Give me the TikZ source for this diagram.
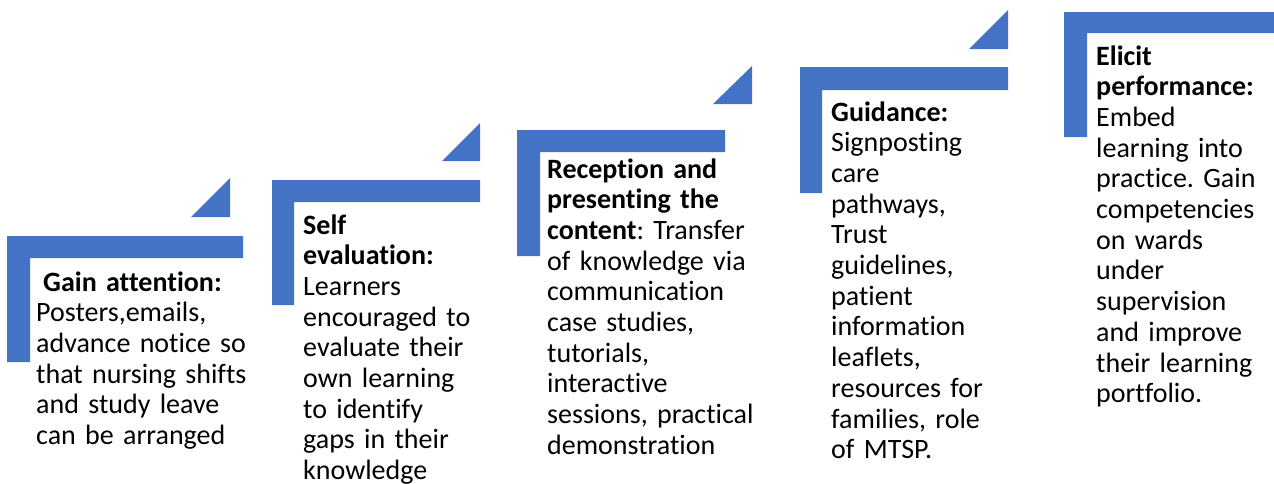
\documentclass[tikz,border=0pt]{standalone}
\usepackage{fontspec}
\setmainfont{Carlito}[Ligatures=NoCommon]
\definecolor{stepblue}{HTML}{4472C4}
\frenchspacing
\begin{document}
\begin{tikzpicture}[x=1pt,y=-1pt,
  stepfill/.style={fill=stepblue,draw=none},
  steptext/.style={anchor=base west,inner sep=0pt,text width=260pt,align=left,
    font=\fontsize{28}{30.7}\selectfont\frenchspacing}]
\useasboundingbox (0,0) rectangle (1274,483);
% step 1
\fill[stepfill] (7,236) -- (243,236) -- (243,258) -- (30,258) -- (30,362) -- (7,362) -- cycle;
\fill[stepfill] (191,217) -- (230,217) -- (230,178) -- cycle;
\node[steptext] (s1) at (36,291) {\hspace*{0.25em}\textbf{Gain attention:}\\Posters,emails,\\advance notice so\\that nursing shifts\\and study leave\\can be arranged};
% step 2
\fill[stepfill] (272,180) -- (480,180) -- (480,202) -- (294,202) -- (294,305) -- (272,305) -- cycle;
\fill[stepfill] (442,161) -- (480,161) -- (480,123) -- cycle;
\node[steptext] (s2) at (303,234) {\textbf{Self}\\\textbf{evaluation:}\\Learners\\encouraged to\\evaluate their\\own learning\\to identify\\gaps in their\\knowledge};
% step 3
\fill[stepfill] (517,130) -- (725,130) -- (725,152) -- (540,152) -- (540,256) -- (517,256) -- cycle;
\fill[stepfill] (713,104) -- (752,104) -- (752,66) -- cycle;
\node[steptext] (s3) at (547,178) {\textbf{Reception and}\\\textbf{presenting the}\\\textbf{content}: Transfer\\of knowledge via\\communication\\case studies,\\tutorials,\\interactive\\sessions, practical\\demonstration};
% step 4
\fill[stepfill] (800,67) -- (1008,67) -- (1008,90) -- (822,90) -- (822,193) -- (800,193) -- cycle;
\fill[stepfill] (969,49) -- (1008,49) -- (1008,10) -- cycle;
\node[steptext] (s4) at (831,121) {\textbf{Guidance:}\\Signposting\\care\\pathways,\\Trust\\guidelines,\\patient\\information\\leaflets,\\resources for\\families, role\\of MTSP.};
% step 5
\fill[stepfill] (1064,12) -- (1274,12) -- (1274,33) -- (1087,33) -- (1087,137) -- (1064,137) -- cycle;
\node[steptext] (s5) at (1096,65) {\textbf{Elicit}\\\textbf{performance:}\\Embed\\learning into\\practice. Gain\\competencies\\on wards\\under\\supervision\\and improve\\their learning\\portfolio.};
\end{tikzpicture}
\end{document}
